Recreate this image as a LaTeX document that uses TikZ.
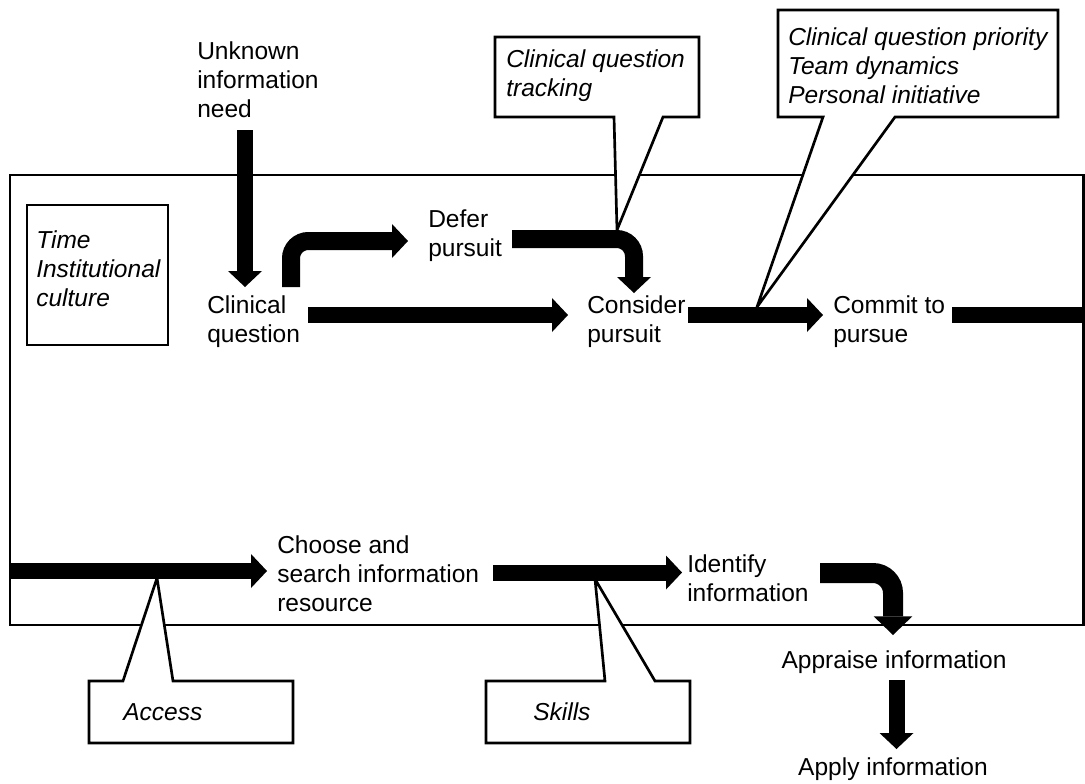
\documentclass[tikz,border=0pt]{standalone}
\usepackage{fontspec}
\setmainfont{Liberation Sans}
\usetikzlibrary{arrows.meta,calc}

\newcommand\diagfont{\fontsize{18.4}{21.75}\selectfont}

\begin{document}
\begin{tikzpicture}[x=0.75pt,y=-0.75pt,
  lbl/.style={inner sep=0pt, anchor=north west, align=left, font=\diagfont},
  lbli/.style={lbl, font=\diagfont\itshape},
  one/.style={inner sep=0pt, font=\diagfont},
  onei/.style={one, font=\diagfont\itshape},
  frame/.style={line width=2pt},
  callout/.style={line width=2pt, fill=white, line join=miter},
  blk/.style={line width=12pt, -{Triangle[width=25.5pt,length=12pt,line width=0pt]}},
  blkbend/.style={blk, line width=13.5pt, rounded corners=13pt},
  blkwide/.style={line width=15pt, rounded corners=15pt, -{Triangle[width=29pt,length=14pt,line width=0pt]}},
  bar/.style={line width=12pt},
]
\useasboundingbox (0,0) rectangle (1085,783);

% outer frame and the constraints box
\draw[frame] (10,175) rectangle (1083.5,625);
\draw[frame] (27,205) rectangle (168,345);
\node[lbli] (time) at (36,227.7) {\strut Time\\Institutional\\culture};

% callouts
\draw[callout] (495,37) -- (699,37) -- (699,117) -- (663,117) -- (617,230)
  -- (614,117) -- (495,117) -- cycle;
\node[lbli] (track) at (506,46.7) {\strut Clinical question\\tracking};

\draw[callout] (778,10) -- (1058,10) -- (1058,117) -- (895,117) -- (757,307)
  -- (823,117) -- (778,117) -- cycle;
\node[lbli] (prio) at (788,24.7) {\strut Clinical question priority\\Team dynamics\\Personal initiative};

\draw[callout] (89,681) -- (123,681) -- (157,578) -- (173,681) -- (293,681)
  -- (293,743) -- (89,743) -- cycle;
\node[onei, anchor=base west] (access) at (123,720) {Access};

\draw[callout] (486,681) -- (605,681) -- (595,579) -- (655,681) -- (690,681)
  -- (690,743) -- (486,743) -- cycle;
\node[onei, anchor=base west] (skills) at (533,720) {Skills};

% step labels
\node[lbl] (unk) at (197,38.7) {\strut Unknown\\information\\need};
\node[lbl] (cq) at (207,292.7) {\strut Clinical\\question};
\node[lbl] (defer) at (428,206.7) {\strut Defer\\pursuit};
\node[lbl] (cons) at (587,292.7) {\strut Consider\\pursuit};
\node[lbl] (commit) at (833,292.7) {\strut Commit to\\pursue};
\node[lbl] (choose) at (277,532.7) {\strut Choose and\\search information\\resource};
\node[lbl] (ident) at (687,551.7) {\strut Identify\\information};
\node[one, anchor=base] (appr) at (894,668) {Appraise information};
\node[one, anchor=base] (apply) at (893,775) {Apply information};

% arrow end points
\coordinate (unkS) at (245,130);   \coordinate (cqN) at (245,287);
\coordinate (cqUp) at (291,287);   \coordinate (deferW) at (408,241);
\coordinate (deferE) at (512,239); \coordinate (consN) at (634,293);
\coordinate (cqE) at (308,315);    \coordinate (consW) at (568,315);
\coordinate (consE) at (688,315);  \coordinate (commitW) at (823,315);
\coordinate (commitE) at (952,315); \coordinate (rightEdge) at (1085,315);
\coordinate (leftEdge) at (10,571); \coordinate (chooseW) at (267,571);
\coordinate (chooseE) at (493,572.5); \coordinate (identW) at (682,572.5);
\coordinate (identE) at (820,573); \coordinate (apprN) at (893,635);
\coordinate (apprS) at (896.5,680); \coordinate (applyN) at (896.5,749);

% arrows
\draw[blk] (unkS) -- (cqN);
\draw[blkbend] (cqUp) |- (deferW);
\draw[blkbend] (deferE) -| (consN);
\draw[blk] (cqE) -- (consW);
\draw[blk] (consE) -- (commitW);
\draw[bar] (commitE) -- (rightEdge);
\draw[blk] (leftEdge) -- (chooseW);
\draw[blk] (chooseE) -- (identW);
\draw[blkwide] (identE) -| (apprN);
\draw[blk] (apprS) -- (applyN);
\end{tikzpicture}
\end{document}
